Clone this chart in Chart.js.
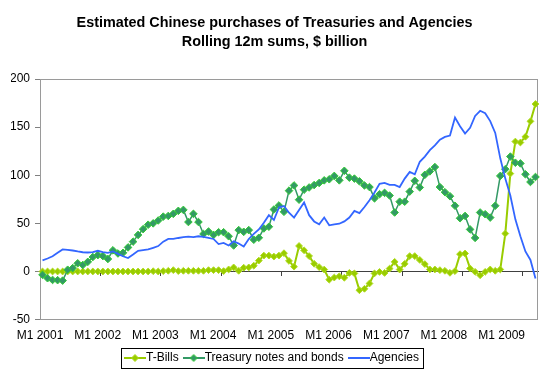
<!DOCTYPE html>
<html>
<head>
<meta charset="utf-8">
<script src="https://cdn.jsdelivr.net/npm/chart.js@4.4.1/dist/chart.umd.min.js"></script>
<style>
  html, body { margin: 0; padding: 0; background: #ffffff; }
</style>
</head>
<body>
<canvas id="chinaChart" width="547" height="374"></canvas>
<script>
// Monthly categories, M1 2001 .. M3 2009
const months = [];
for (let y = 2001; y <= 2009; y++) {
  for (let m = 1; m <= 12; m++) {
    if (y === 2009 && m > 3) break;
    months.push("M" + m + " " + y);
  }
}

// Axis tick labels
const xTickLabels = ["M1 2001", "M1 2002", "M1 2003", "M1 2004", "M1 2005", "M1 2006", "M1 2007", "M1 2008", "M1 2009"];
const yTicks = [-50, 0, 50, 100, 150, 200];

// Series values, $ billion (rolling 12m sums)
const tBills = [
  0, 0, 0, 0, 0, 0, 0, 0, 0, 0,
  0, 0, 0, 0, 0, 0, 0, 0, 0, 0,
  0, 0, 0.3, 0, 0.4, 0.7, 1.4, 0.4, 0.7, 0.7,
  0.7, 0.7, 0.7, 1.4, 1.4, 1.4, 0.4, 2.1, 4.2, 0.7,
  3.9, 4.2, 6, 11.3, 16.5, 16.5, 15.5, 16.5, 19, 11,
  5, 26.5, 22, 16, 8, 4.5, 2, -8.5, -6.3, -5,
  -6.5, -1.5, -2, -19.5, -18, -12.5, -2, -0.5, -1.5, 3,
  10, 2, 8, 16, 16, 12, 7.7, 2.1, 2.1, 1.4,
  0.7, -1.4, 0.4, 18, 18.7, 3.2, -0.4, -3.9, -0.4, 2.1,
  0.7, 2.1, 39.4, 101.7, 135, 134, 140, 156, 174
];
const treasuryNotes = [
  -3.5, -7, -8.8, -9, -9.5, 1.8, 3.5, 8.5, 6.7, 10,
  15, 17, 16, 13, 22, 18.7, 19.4, 25, 31, 38,
  44, 48.6, 50, 53, 57, 57.7, 59.9, 63, 64, 51.4,
  59.9, 51.4, 39, 41.5, 38, 40.8, 40.8, 36.6, 27, 43,
  41.2, 43, 33, 35, 44.7, 46.5, 64.4, 68.6, 62, 84,
  89.4, 74.6, 85, 87.3, 89.8, 92, 94.7, 95.8, 99.3, 94.7,
  104.6, 97.5, 96.5, 93.7, 89.4, 87.7, 76, 80.3, 81.7, 78.9,
  61.3, 72.5, 72.5, 83, 94.2, 87.3, 100.4, 104, 108.5, 87.7,
  82.4, 78.2, 68.3, 55.3, 57.7, 43.7, 34.9, 61.3, 59.5, 56,
  68.3, 99.3, 106.3, 119.4, 113, 112.3, 101, 93, 98.2
];
const agencies = [
  11.6, 13.5, 15.8, 19.5, 22.9, 22.5, 21.8, 20.8, 20, 19.7,
  20, 21.5, 20, 19.4, 20.8, 18.3, 15.8, 14, 17.6, 21.5,
  22.2, 22.9, 24.6, 26.4, 31, 33.8, 33.8, 34.8, 35.6, 36.3,
  35.8, 36.6, 36, 35, 33.8, 28.5, 29.6, 27, 31.3, 29,
  26, 33.8, 39, 43.7, 50.7, 58.5, 53.5, 66.5, 68, 61,
  56, 64, 71.8, 58.5, 52, 49, 56, 48, 49, 49.6,
  52, 56, 63, 60.6, 67, 74, 82, 91, 92, 90,
  90, 87.7, 96.5, 103.5, 101, 114, 119.4, 126, 131, 137,
  139.8, 141.2, 160, 151, 143.3, 149.3, 161.6, 167, 164.4, 156.3,
  144, 117.6, 96.5, 78.9, 54.2, 36.6, 20.8, 12, -7.4
];

const FONT = "Arial, 'Liberation Sans', sans-serif";
const tBillColor = "#99CC00";
const notesLine = "#339966";
const notesEdge = "#33CC33";
const agencyColor = "#3366FF";

// little line+marker swatches for the legend
function legendIcon(color, marker, edge) {
  const c = document.createElement("canvas");
  c.width = 22;
  c.height = 10;
  const g = c.getContext("2d");
  g.strokeStyle = color;
  g.lineWidth = 2;
  g.beginPath();
  g.moveTo(0, 5);
  g.lineTo(22, 5);
  g.stroke();
  if (marker) {
    g.fillStyle = marker;
    g.strokeStyle = edge;
    g.lineWidth = 1;
    g.beginPath();
    g.moveTo(11, 1.5);
    g.lineTo(14.5, 5);
    g.lineTo(11, 8.5);
    g.lineTo(7.5, 5);
    g.closePath();
    g.fill();
    g.stroke();
  }
  return c;
}
const icons = [
  legendIcon(tBillColor, tBillColor, "#B0DC20"),
  legendIcon(notesLine, notesLine, notesEdge),
  legendIcon(agencyColor, null, null)
];

// grey box round the plot area
const plotFrame = {
  id: "plotFrame",
  beforeDatasetsDraw(chart) {
    const a = chart.chartArea;
    const ctx = chart.ctx;
    ctx.save();
    ctx.strokeStyle = "#9a9a9a";
    ctx.lineWidth = 1;
    ctx.strokeRect(Math.round(a.left) + 0.5, Math.round(a.top) + 0.5,
      Math.round(a.right - a.left) - 1, Math.round(a.bottom - a.top) - 1);
    ctx.restore();
  }
};

// black border round the legend
const legendFrame = {
  id: "legendFrame",
  afterDraw(chart) {
    const boxes = chart.legend && chart.legend.legendHitBoxes;
    if (!boxes || !boxes.length) return;
    const first = boxes[0];
    const last = boxes[boxes.length - 1];
    const l = Math.round(first.left - 9) + 0.5;
    const r = Math.round(last.left + last.width + 4) + 0.5;
    const t = Math.round(first.top - 4) + 0.5;
    const b = Math.round(first.top + first.height + 4) + 0.5;
    const ctx = chart.ctx;
    ctx.save();
    ctx.strokeStyle = "#000000";
    ctx.lineWidth = 1;
    ctx.strokeRect(l, t, r - l, b - t);
    ctx.restore();
  }
};

const ctx = document.getElementById("chinaChart").getContext("2d");
new Chart(ctx, {
  type: "line",
  data: {
    labels: months,
    datasets: [
      {
        label: "T-Bills",
        data: tBills,
        xAxisID: "x",
        yAxisID: "y",
        order: 2,
        borderColor: tBillColor,
        backgroundColor: tBillColor,
        borderWidth: 2,
        pointStyle: "rectRot",
        pointRadius: 3.4,
        pointBackgroundColor: tBillColor,
        pointBorderColor: "#B0DC20",
        pointBorderWidth: 1,
        tension: 0
      },
      {
        label: "Treasury notes and bonds",
        data: treasuryNotes,
        xAxisID: "x",
        yAxisID: "y",
        order: 1,
        borderColor: notesLine,
        backgroundColor: notesLine,
        borderWidth: 1.5,
        pointStyle: "rectRot",
        pointRadius: 3.8,
        pointBackgroundColor: notesLine,
        pointBorderColor: notesEdge,
        pointBorderWidth: 1,
        tension: 0
      },
      {
        label: "Agencies",
        data: agencies,
        xAxisID: "x",
        yAxisID: "y",
        order: 0,
        borderColor: agencyColor,
        backgroundColor: agencyColor,
        borderWidth: 1.8,
        pointRadius: 0,
        tension: 0
      }
    ]
  },
  options: {
    responsive: false,
    animation: false,
    layout: { padding: { left: 11, right: 9, top: 0, bottom: 0 } },
    scales: {
      x: {
        type: "category",
        axis: "x",
        position: "bottom",
        offset: true,
        ticks: { display: false },
        grid: { display: false, drawTicks: false },
        border: { display: false }
      },
      // zero line with yearly tick marks
      x0: {
        type: "category",
        axis: "x",
        position: { y: 0 },
        offset: true,
        ticks: { display: false },
        grid: {
          offset: true,
          drawOnChartArea: false,
          drawTicks: true,
          tickLength: 4,
          color: (c) => (months[c.index] && months[c.index].startsWith("M1 ")) ? "#404040" : "rgba(0,0,0,0)"
        },
        border: { color: "#404040", width: 1 }
      },
      // yearly labels under the plot
      xl: {
        type: "linear",
        axis: "x",
        position: "bottom",
        min: 0,
        max: 8.63,
        afterBuildTicks: (s) => { s.ticks = xTickLabels.map((t, i) => ({ value: i })); },
        ticks: {
          autoSkip: false,
          maxRotation: 0,
          padding: 9,
          color: "#000000",
          font: { family: FONT, size: 12 },
          callback: (v) => xTickLabels[v] || ""
        },
        grid: { display: false, drawTicks: false },
        border: { display: false },
        afterFit: (s) => { s.height -= 10; }
      },
      y: {
        type: "linear",
        min: -50,
        max: 200,
        afterBuildTicks: (s) => { s.ticks = yTicks.map((v) => ({ value: v })); },
        ticks: {
          padding: 5,
          color: "#000000",
          font: { family: FONT, size: 12 }
        },
        grid: { drawOnChartArea: false, drawTicks: true, tickLength: 5, color: "#808080" },
        border: { color: "#9a9a9a" },
        afterFit: (s) => { s.width = 29; }
      }
    },
    plugins: {
      title: {
        display: true,
        text: ["Estimated Chinese purchases of Treasuries and Agencies", "Rolling 12m sums, $ billion"],
        color: "#000000",
        font: { family: FONT, size: 14.4, weight: "bold", lineHeight: 19 / 14.4 },
        padding: { top: 14, bottom: 27 }
      },
      legend: {
        position: "bottom",
        labels: {
          usePointStyle: true,
          pointStyleWidth: 10,
          padding: 10,
          color: "#000000",
          font: { family: FONT, size: 12 },
          generateLabels: (chart) => chart.data.datasets.map((ds, i) => ({
            text: ds.label,
            datasetIndex: i,
            pointStyle: icons[i],
            fillStyle: ds.borderColor,
            strokeStyle: ds.borderColor,
            lineWidth: 1,
            hidden: false,
            fontColor: "#000000"
          }))
        }
      },
      tooltip: { enabled: false }
    }
  },
  plugins: [plotFrame, legendFrame]
});
</script>
</body>
</html>
